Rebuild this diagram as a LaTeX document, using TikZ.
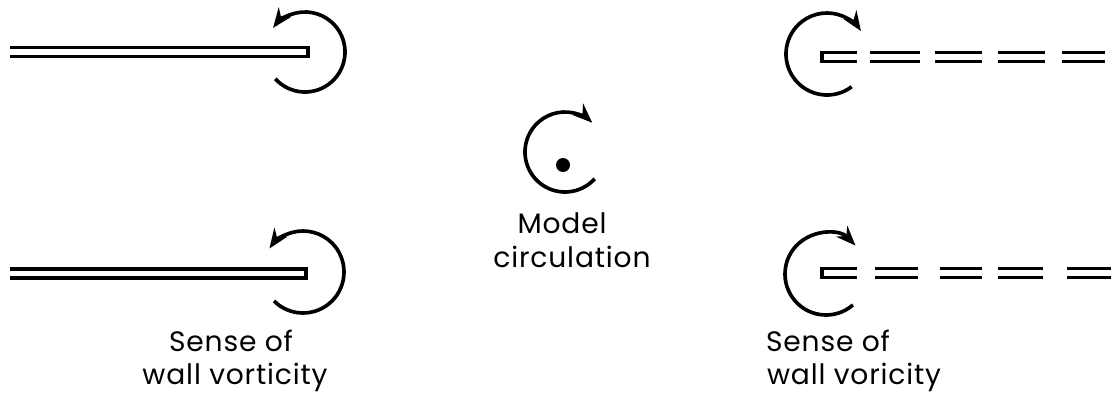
\documentclass[tikz,border=0pt]{standalone}
\usepackage{fontspec}
\setmainfont{Poppins}[LetterSpace=3]
\usetikzlibrary{arrows.meta}

\tikzset{
  plate/.style={line width=2.4pt},
  swirl/.style={line width=2.6pt, -{Stealth[length=14pt,width=11pt]}},
  caption/.style={font=\fontsize{20}{22}\selectfont, anchor=base, inner sep=0pt}
}

\begin{document}
\begin{tikzpicture}[x=0.025cm, y=0.025cm]
\useasboundingbox (0,0) rectangle (1111,402);

% Upper left: plate with wall vortex
\draw[plate] (10,354.5) -- (308,354.5) -- (308,345.5) -- (10,345.5);
\coordinate (vtl) at (305,350);
\draw[swirl] ([shift={(-138:40)}]vtl) arc[start angle=-138, end angle=143, radius=40];

% Lower left: plate with wall vortex
\draw[plate] (10,133) -- (306,133) -- (306,124) -- (10,124);
\coordinate (vbl) at (303,130);
\draw[swirl] ([shift={(-135:41)}]vbl) arc[start angle=-135, end angle=145, radius=41];
\node[caption] (senseL) at (231,51) {Sense of};
\node[caption] (wallL) at (235,18) {wall vorticity};

% Centre: model circulation
\coordinate (vc) at (565,250);
\draw[swirl] ([shift={(-42:40)}]vc) arc[start angle=-42, end angle=-313, radius=40];
\fill (563,237) circle (7);
\node[caption] (modelC) at (562,168) {Model};
\node[caption] (circC) at (572,135) {circulation};

% Upper right: image plate (dashed) with vortex
\coordinate (vtr) at (827,348);
\draw[swirl] ([shift={(-53:41)}]vtr) arc[start angle=-53, end angle=-326, radius=41];
\draw[plate] (857,349.5) -- (822,349.5) -- (822,340.5) -- (857,340.5);
\foreach \a/\b in {870/920, 935/982, 998/1045, 1062/1105}
  \draw[plate] (\a,349.5) -- (\b,349.5) (\a,340.5) -- (\b,340.5);

% Lower right: image plate (dashed) with vortex
\coordinate (vbr) at (826,128);
\draw[swirl] ([shift={(-49:41)}]vbr) arc[start angle=-49, end angle=-316, radius=41];
\draw[plate] (857,133.5) -- (822,133.5) -- (822,124.5) -- (857,124.5);
\foreach \a/\b in {875/918, 940/982, 998/1043, 1067/1111}
  \draw[plate] (\a,133.5) -- (\b,133.5) (\a,124.5) -- (\b,124.5);
\node[caption] (senseR) at (828,51) {Sense of};
\node[caption] (wallR) at (854,18) {wall voricity};

\end{tikzpicture}
\end{document}
